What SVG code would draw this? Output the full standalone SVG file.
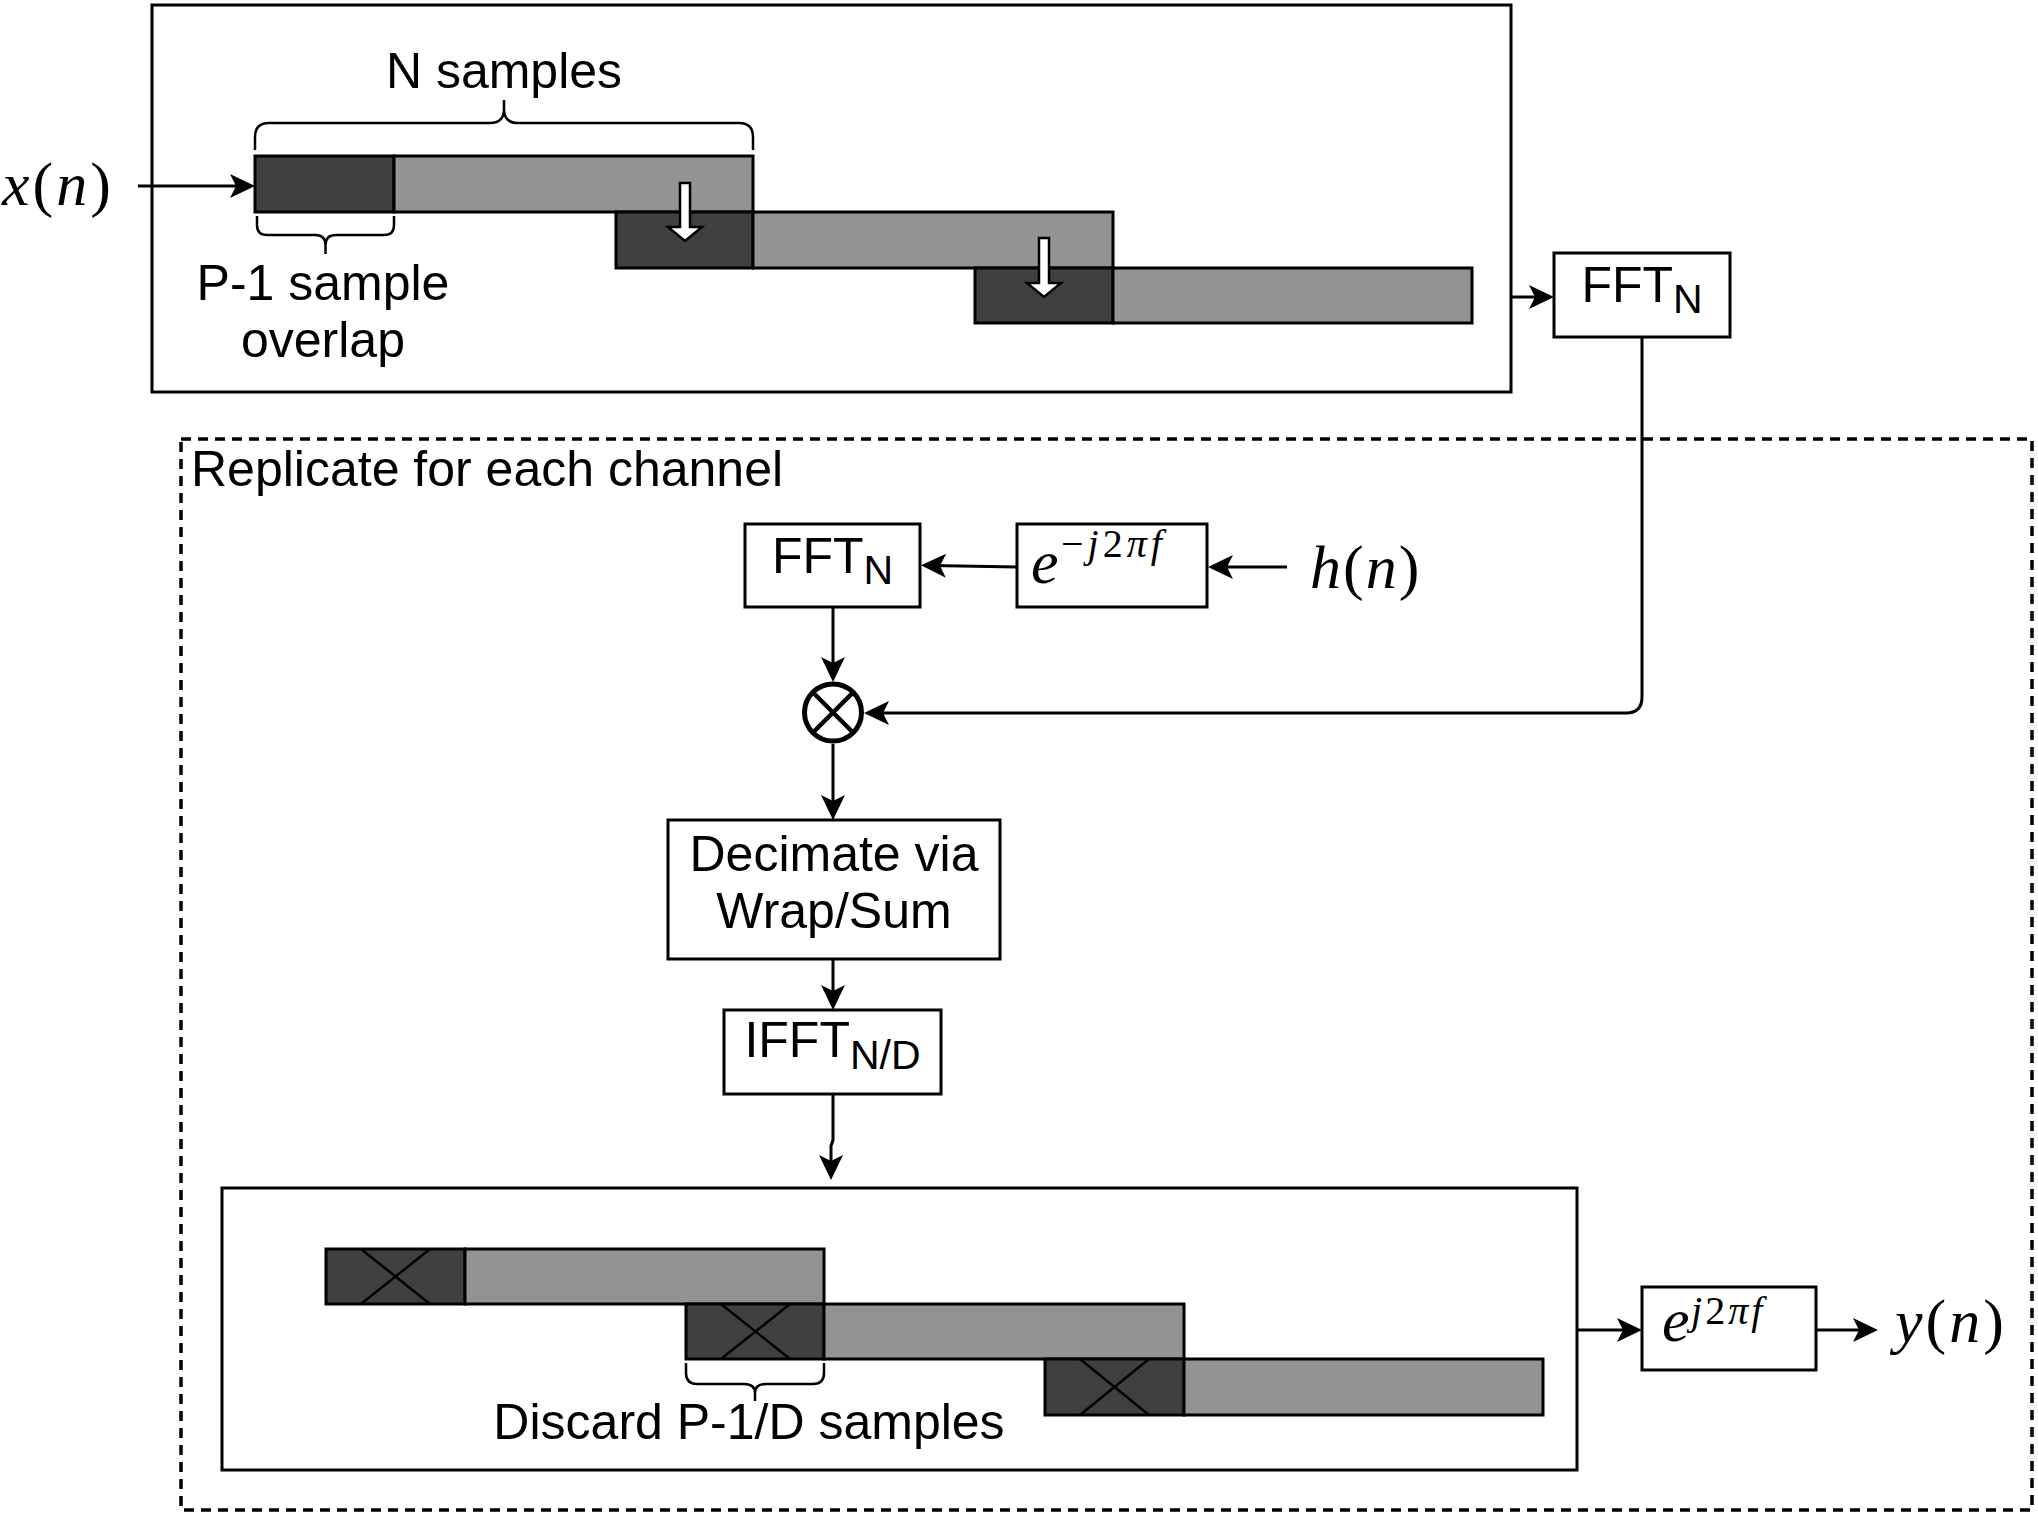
<svg xmlns="http://www.w3.org/2000/svg" width="2038" height="1513" viewBox="0 0 2038 1513">
<style>
.box{fill:#fff;stroke:#000;stroke-width:3}
.dk{fill:#404040;stroke:#000;stroke-width:3}
.lt{fill:#939393;stroke:#000;stroke-width:3}
.ln{fill:none;stroke:#000;stroke-width:3}
.br{fill:none;stroke:#000;stroke-width:2.5}
.xm{stroke:#000;stroke-width:2.5}
.t{font-family:"Liberation Sans",Arial,Helvetica,sans-serif;font-size:50px;fill:#000}
.m{font-family:"Liberation Serif","Times New Roman",serif;fill:#000}
.i{font-style:italic}
</style>
<defs>
<marker id="arr" markerUnits="userSpaceOnUse" markerWidth="28" markerHeight="28" viewBox="-16 -14 28 28" refX="0" refY="0" orient="auto">
<path d="M10,0 L-15,-12 L-9,0 L-15,12 Z" fill="#000"/>
</marker>
</defs>
<rect x="0" y="0" width="2038" height="1513" fill="#fff"/>

<g id="replicate-group">
<rect x="181" y="439" width="1851" height="1071" fill="none" stroke="#000" stroke-width="3.5" stroke-dasharray="10 7"/>
<text class="t" x="191" y="486">Replicate for each channel</text>
</g>

<g id="input-framing">
<rect class="box" x="152" y="5" width="1359" height="387"/>
<rect class="dk" x="255" y="156" width="139" height="56"/>
<rect class="lt" x="394" y="156" width="359" height="56"/>
<rect class="dk" x="616" y="212" width="137" height="56"/>
<rect class="lt" x="753" y="212" width="360" height="56"/>
<rect class="dk" x="975" y="268" width="138" height="55"/>
<rect class="lt" x="1113" y="268" width="359" height="55"/>
<path class="br" d="M255,150 V137 Q255,123 269,123 H490 Q504,123 504,109 V100 V109 Q504,123 518,123 H739 Q753,123 753,137 V150"/>
<text class="t" x="504" y="88" text-anchor="middle">N samples</text>
<path class="br" d="M257,216 V225 Q257,235 267,235 H315 Q325.5,235 325.5,245 V254 V245 Q325.5,235 336,235 H384 Q394,235 394,225 V216"/>
<text class="t" x="323" y="300" text-anchor="middle">P-1 sample</text>
<text class="t" x="323" y="357" text-anchor="middle">overlap</text>
<path d="M680,183 H690 V227 H702 L685,241 L668,227 H680 Z" fill="#fff" stroke="#000" stroke-width="2.5"/>
<path d="M1039,238 H1049 V283 H1061 L1044,297 L1027,283 H1039 Z" fill="#fff" stroke="#000" stroke-width="2.5"/>
</g>

<g id="x-n">
<text class="m" x="2" y="205" font-size="62" letter-spacing="3"><tspan class="i">x</tspan>(<tspan class="i">n</tspan>)</text>
</g>

<g id="fft-top">
<rect class="box" x="1554" y="253" width="176" height="84"/>
<text class="t" x="1642" y="302" text-anchor="middle">FFT<tspan font-size="41" dy="11">N</tspan></text>
</g>

<g id="fft-h">
<rect class="box" x="745" y="524" width="175" height="83"/>
<text class="t" x="832.5" y="573" text-anchor="middle">FFT<tspan font-size="41" dy="11">N</tspan></text>
</g>

<g id="exp-neg">
<rect class="box" x="1017" y="524" width="190" height="83"/>
<text class="m" x="1031" y="583" font-size="62"><tspan class="i">e</tspan></text>
<text class="m" x="1061" y="557" font-size="40" letter-spacing="4">−<tspan class="i">j</tspan>2<tspan class="i">πf</tspan></text>
</g>

<g id="h-n">
<text class="m" x="1310" y="588" font-size="62" letter-spacing="2"><tspan class="i">h</tspan>(<tspan class="i">n</tspan>)</text>
</g>

<g id="multiplier">
<circle cx="833" cy="712.5" r="28.5" fill="#fff" stroke="#000" stroke-width="5"/>
<path d="M813,692.5 L853,732.5 M853,692.5 L813,732.5" stroke="#000" stroke-width="4.5"/>
</g>

<g id="decimate">
<rect class="box" x="668" y="820" width="332" height="139"/>
<text class="t" x="834" y="871" text-anchor="middle">Decimate via</text>
<text class="t" x="834" y="928" text-anchor="middle">Wrap/Sum</text>
</g>

<g id="ifft">
<rect class="box" x="724" y="1010" width="217" height="84"/>
<text class="t" x="832.5" y="1057" text-anchor="middle">IFFT<tspan font-size="41" dy="12">N/D</tspan></text>
</g>

<g id="output-discard">
<rect class="box" x="222" y="1188" width="1355" height="282"/>
<rect class="dk" x="326" y="1249" width="139" height="55"/>
<rect class="lt" x="465" y="1249" width="359" height="55"/>
<rect class="dk" x="686" y="1304" width="138" height="55"/>
<rect class="lt" x="824" y="1304" width="360" height="55"/>
<rect class="dk" x="1045" y="1359" width="139" height="56"/>
<rect class="lt" x="1184" y="1359" width="359" height="56"/>
<path class="xm" d="M361,1249 L430,1304 M430,1249 L361,1304"/>
<path class="xm" d="M721,1304 L790,1359 M790,1304 L721,1359"/>
<path class="xm" d="M1080,1359 L1149,1415 M1149,1359 L1080,1415"/>
<path class="br" d="M686,1363 V1373 Q686,1384 697,1384 H744 Q755,1384 755,1393 V1401 V1393 Q755,1384 766,1384 H813 Q824,1384 824,1373 V1363"/>
<text class="t" x="749" y="1439" text-anchor="middle">Discard P-1/D samples</text>
</g>

<g id="exp-pos">
<rect class="box" x="1642" y="1287" width="174" height="83"/>
<text class="m" x="1662" y="1341" font-size="62"><tspan class="i">e</tspan></text>
<text class="m" x="1691" y="1324" font-size="40" letter-spacing="3"><tspan class="i">j</tspan>2<tspan class="i">πf</tspan></text>
</g>

<g id="y-n">
<text class="m" x="1895" y="1342" font-size="62" letter-spacing="3"><tspan class="i">y</tspan>(<tspan class="i">n</tspan>)</text>
</g>

<g id="connectors">
<path class="ln" d="M138,186 H245" marker-end="url(#arr)"/>
<path class="ln" d="M1511,297 H1544" marker-end="url(#arr)"/>
<path class="ln" d="M1642,337 V697 Q1642,713 1626,713 H874" marker-end="url(#arr)"/>
<path class="ln" d="M1287,567 H1218" marker-end="url(#arr)"/>
<path class="ln" d="M1017,567 L931,565.5" marker-end="url(#arr)"/>
<path class="ln" d="M833,607 V672" marker-end="url(#arr)"/>
<path class="ln" d="M833,744 V810" marker-end="url(#arr)"/>
<path class="ln" d="M833,959 V1000" marker-end="url(#arr)"/>
<path class="ln" d="M833,1094 V1140 L831,1146 V1170" marker-end="url(#arr)"/>
<path class="ln" d="M1577,1330 H1632" marker-end="url(#arr)"/>
<path class="ln" d="M1816,1330 H1868" marker-end="url(#arr)"/>
</g>
</svg>
